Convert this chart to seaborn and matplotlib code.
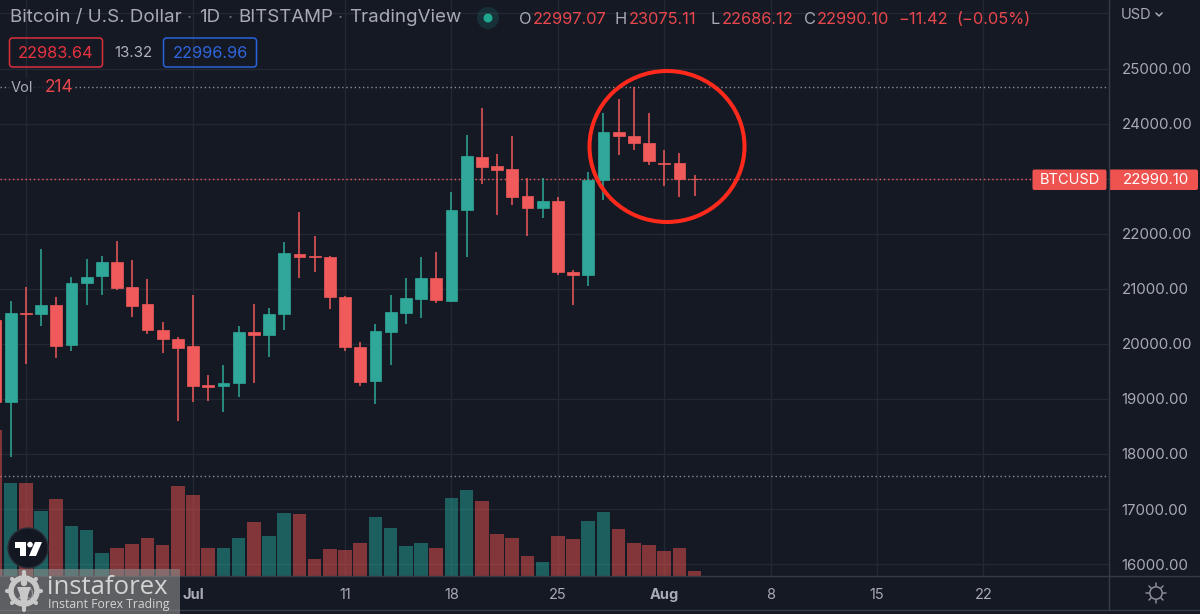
import matplotlib

matplotlib.use("Agg")
import matplotlib.pyplot as plt
import pandas as pd
import seaborn as sns
from matplotlib.patches import Circle, Ellipse, FancyBboxPatch, Polygon, Rectangle

# 1. Data --------------------------------------------------------------------

# Days counted from 1 July 2022
days = list(range(-13, 34))

opens = [20433, 18950, 20566, 20548, 20711, 19972, 21098, 21225, 21492, 21026,
         20723, 20251, 20094, 19960, 19258, 19234, 19289, 20209, 20154, 20541,
         21631, 21601, 21583, 20851, 19943, 19331, 20221, 20554, 20820, 21196,
         20784, 22437, 23393, 23223, 23169, 22691, 22461, 22594, 21305, 21256,
         22969, 23853, 23774, 23653, 23290, 23290, 22997]
highs = [20750, 20784, 21038, 21716, 20856, 21207, 21534, 21595, 21873, 21522,
         21171, 20396, 20124, 20893, 19434, 19621, 20324, 20723, 20650, 21849,
         22400, 21958, 21589, 20863, 20034, 20366, 20881, 21190, 21583, 21668,
         22757, 23798, 24283, 23441, 23768, 23006, 23006, 22673, 21341, 23114,
         24198, 24452, 24670, 24186, 23520, 23466, 23075]
lows = [18900, 17950, 19627, 20330, 19749, 19876, 20711, 20893, 20977, 20493,
        20178, 19827, 18604, 18950, 18956, 18768, 19040, 19282, 19761, 20245,
        21190, 21311, 20633, 19876, 19240, 18902, 19616, 20366, 20475, 20748,
        20766, 21583, 22903, 22346, 22515, 21952, 22279, 21256, 20705, 21050,
        22612, 23435, 23526, 23254, 22872, 22673, 22686]
closes = [18949, 20554, 20542, 20711, 19954, 21098, 21219, 21492, 21020, 20693,
          20257, 20087, 19918, 19234, 19222, 19295, 20209, 20166, 20541, 21643,
          21577, 21583, 20857, 19943, 19313, 20227, 20578, 20839, 21196, 20796,
          22437, 23405, 23205, 23163, 22673, 22461, 22594, 21305, 21256, 22975,
          23853, 23774, 23641, 23320, 23272, 22993, 22990]
volumes = [6600, 4218, 4218, 2944, 3490, 2243, 2048, 1033, 1229, 1411,
           1697, 1365, 4050, 3654, 1260, 1229, 1697, 2412, 1775, 2835,
           2776, 760, 1197, 1169, 1488, 2671, 2152, 1351, 1488, 1260,
           3535, 3868, 3367, 1897, 1697, 865, 605, 1788, 1638, 2471,
           2898, 2125, 1456, 1365, 1124, 1229, 214]

price_ticks = [16000, 17000, 18000, 19000, 20000, 21000, 22000, 23000, 24000, 25000]
date_ticks = [-11, 0, 10, 17, 24, 31, 38, 45, 52]
date_labels = ["20", "Jul", "11", "18", "25", "Aug", "8", "15", "22"]

last_price = 22990.10
range_high = 24670
range_low = 17600

# 2. Colours and frame -------------------------------------------------------

bg = "#151924"
grid_col = "#242833"
border_col = "#363a45"
text_col = "#a8abb4"
up_col = "#2fa899"
down_col = "#f05a5a"
head_red = "#e8474c"

df = pd.DataFrame(
    {"day": days, "open": opens, "high": highs, "low": lows, "close": closes, "volume": volumes}
)
df["direction"] = ["up" if c >= o else "down" for o, c in zip(opens, closes)]

sns.set_theme(style="dark")
plt.rcParams["font.family"] = ["Inter", "DejaVu Sans"]

fig = plt.figure(figsize=(12, 6.14), dpi=100, facecolor=bg)
W, H = 1200, 614
plot_right, plot_bottom = 1109, 575.5

ax_vol = fig.add_axes([0, (H - plot_bottom) / H, plot_right / W, plot_bottom / H])
ax = ax_vol.twinx()

# Volume sits above the grid so that the lines show through the bars
ax.set_zorder(1)
ax_vol.set_zorder(2)
ax_vol.patch.set_visible(False)
ax.set_facecolor(bg)
ax.patch.set_visible(True)

# 3. Volume bars -------------------------------------------------------------

sns.barplot(
    data=df,
    x="day",
    y="volume",
    hue="direction",
    palette={"up": "#26a69a", "down": "#ef5350"},
    native_scale=True,
    dodge=False,
    width=0.9,
    alpha=0.5,
    saturation=1,
    errorbar=None,
    legend=False,
    linewidth=0,
    ax=ax_vol,
)
ax_vol.set_xlim(-12.7, 60.26)
ax_vol.set_ylim(0, 26185)
ax_vol.set_yticks([])
ax_vol.set_xlabel("")
ax_vol.set_ylabel("")
ax_vol.set_xticks(date_ticks)
ax_vol.set_xticklabels(date_labels, fontsize=10.5, color=text_col)
for lab in ax_vol.get_xticklabels():
    if lab.get_text() in ["Jul", "Aug"]:
        lab.set_fontweight("bold")
ax_vol.tick_params(axis="x", length=0, pad=9)
ax_vol.grid(False)

# 4. Candles -----------------------------------------------------------------

ax.set_ylim(15793, 26244)
ax.set_yticks(price_ticks)
# the 23000 label is covered by the last price tag
ax.set_yticklabels(["" if p == 23000 else f"{p:.2f}" for p in price_ticks], fontsize=10.8, color=text_col)
ax.tick_params(axis="y", length=0, pad=9)
ax.yaxis.grid(True, color=grid_col, lw=1)
ax.xaxis.grid(False)
ax.axhline(26000, color=grid_col, lw=1, zorder=0)
for d in date_ticks:
    ax.axvline(d, color=grid_col, lw=1, zorder=0)
ax.set_ylabel("")

for spine in list(ax.spines.values()) + list(ax_vol.spines.values()):
    spine.set_visible(False)

ax.axhline(range_high, color="#8a8d96", lw=1, ls=(0, (1, 2)), zorder=1)
ax.axhline(range_low, color="#8a8d96", lw=1, ls=(0, (1, 2)), zorder=1)
ax.axhline(last_price, color=down_col, lw=1, ls=(0, (1, 2)), zorder=1)

for row in df.itertuples():
    col = up_col if row.direction == "up" else down_col
    ax.vlines(row.day, row.low, row.high, color=col, lw=1.1, zorder=3)
    ax.bar(
        row.day,
        abs(row.close - row.open),
        bottom=min(row.open, row.close),
        width=0.78,
        color=col,
        edgecolor=col,
        linewidth=0.5,
        zorder=4,
    )

# 5. Overlay in pixel coordinates for chart furniture ------------------------

ov = fig.add_axes([0, 0, 1, 1], zorder=10)
ov.set_xlim(0, W)
ov.set_ylim(H, 0)
ov.axis("off")
ov.patch.set_alpha(0)


def txt(x, y, s, color=text_col, size=10.5, ha="left", **kw):
    ov.text(x, y, s, color=color, fontsize=size, ha=ha, va="center", **kw)


# Axis borders
ov.plot([plot_right, plot_right], [0, 610], color=border_col, lw=1)
ov.plot([0, W], [plot_bottom, plot_bottom], color=border_col, lw=1)
ov.plot([0, W], [610, 610], color=border_col, lw=1)

# Header
txt(10, 18, "Bitcoin / U.S. Dollar", size=13.5, color="#a8abb4")
txt(187, 18, "·", size=13, color="#6a6d78")
txt(199, 18, "1D", size=13.5, color="#a8abb4")
txt(228, 18, "·", size=13, color="#6a6d78")
txt(238, 18, "BITSTAMP", size=13.5, color="#a8abb4")
txt(338, 18, "·", size=13, color="#6a6d78")
txt(349, 18, "TradingView", size=13.5, color="#a8abb4")
ov.add_patch(Circle((488, 18), 11, color="#26a69a", alpha=0.16, lw=0))
ov.add_patch(Circle((488, 18), 4.5, color="#1fa88f", lw=0))

for x_l, lab, x_v, val in [
    (519, "O", 533, "22997.07"),
    (615, "H", 629, "23075.11"),
    (711, "L", 722, "22686.12"),
    (804, "C", 817, "22990.10"),
]:
    txt(x_l, 20, lab, size=11.8, color="#a8abb4")
    txt(x_v, 20, val, size=11.8, color=head_red)
txt(898, 20, "−11.42", size=11.8, color=head_red)
txt(956, 20, "(−0.05%)", size=11.8, color=head_red)

# Spread boxes
ov.add_patch(FancyBboxPatch((11, 39.5), 90, 26, boxstyle="round,pad=1.5,rounding_size=3",
                            fc="none", ec="#d9303e", lw=1.1))
txt(56, 53, "22983.64", color="#e8333f", size=11.8, ha="center")
txt(133.5, 53, "13.32", color="#b2b5be", size=10.8, ha="center")
ov.add_patch(FancyBboxPatch((165, 39.5), 90, 26, boxstyle="round,pad=1.5,rounding_size=3",
                            fc="none", ec="#2962d9", lw=1.1))
txt(210, 53, "22996.96", color="#2f66dd", size=11.8, ha="center")

# Volume legend
ov.add_patch(Rectangle((9, 78), 66, 18, fc=bg, ec="none", alpha=0.8))
txt(11, 87.5, "Vol", size=10.5, color="#a8abb4")
txt(45, 87.5, "214", size=12.5, color=head_red)

# Currency selector
txt(1121, 15, "USD", size=10.5, color=text_col)
ov.plot([1156, 1159, 1162], [13, 16, 13], color=text_col, lw=1.1)

# Last price tags
ov.add_patch(FancyBboxPatch((1034, 171), 71, 17.5, boxstyle="round,pad=1.5,rounding_size=2",
                            fc="#ef5350", ec="none"))
ov.add_patch(FancyBboxPatch((1110.5, 171), 86, 17.5, boxstyle="round,pad=1.5,rounding_size=2",
                            fc="#ef5350", ec="none"))
txt(1069.5, 180, "BTCUSD", color="white", size=10.5, ha="center")
txt(1155.5, 180, "22990.10", color="white", size=10.8, ha="center")

# Highlight circle
ov.add_patch(Ellipse((667, 146.5), 155, 151, fc="none", ec="#ff2a1c", lw=2.9, zorder=6))

# Settings icon
ov.add_patch(Circle((1156, 593), 6.2, fc="none", ec="#8a8d96", lw=1.1))
for x0, y0, x1, y1 in [(1156, 583, 1156, 586), (1156, 600, 1156, 603), (1146, 593, 1149, 593),
                       (1163, 593, 1166, 593), (1149, 586, 1151, 588), (1161, 598, 1163, 600),
                       (1149, 600, 1151, 598), (1161, 588, 1163, 586)]:
    ov.plot([x0, x1], [y0, y1], color="#8a8d96", lw=1.1)

# TradingView badge
ov.add_patch(Circle((28, 548), 20, fc="#131722", ec="#2a2e39", lw=1, zorder=7))
ov.add_patch(Polygon([(15, 542), (26, 542), (26, 556), (20, 556), (20, 547.5), (15, 547.5)],
                     fc="white", ec="none", zorder=8))
ov.add_patch(Circle((30, 544.6), 2.8, fc="white", ec="none", zorder=8))
ov.add_patch(Polygon([(35, 542), (42, 542), (36, 556), (29, 556)], fc="white", ec="none", zorder=8))

# Instaforex watermark
ov.add_patch(Rectangle((0, 569), 180, 45, fc="#8b8b8b", ec="none", alpha=0.62, zorder=9))
ov.add_patch(Circle((24, 591), 13, fc="none", ec="#c8c8c8", lw=4, zorder=10))
ov.add_patch(Circle((24, 583), 3.2, fc="#c8c8c8", ec="none", zorder=10))
ov.add_patch(Polygon([(17, 587), (31, 587), (28, 595), (27, 605), (21, 605), (20, 595)],
                     fc="#c8c8c8", ec="none", zorder=10))
for x0, y0, x1, y1 in [(24, 572, 24, 577), (24, 605, 24, 610), (7, 591, 11, 591), (37, 591, 41, 591),
                       (12, 579, 15, 582), (33, 600, 36, 603), (12, 603, 15, 600), (33, 582, 36, 579)]:
    ov.plot([x0, x1], [y0, y1], color="#c8c8c8", lw=3, zorder=10)
ov.text(47, 587, "instaforex", color="#d4d4d4", fontsize=18.5, ha="left", va="center",
        family="Open Sans", zorder=10)
ov.text(48, 604.5, "Instant Forex Trading", color="#d4d4d4", fontsize=8.8, ha="left", va="center",
        family="Open Sans", zorder=10)

fig.savefig("out.png", dpi=100, facecolor=bg)
